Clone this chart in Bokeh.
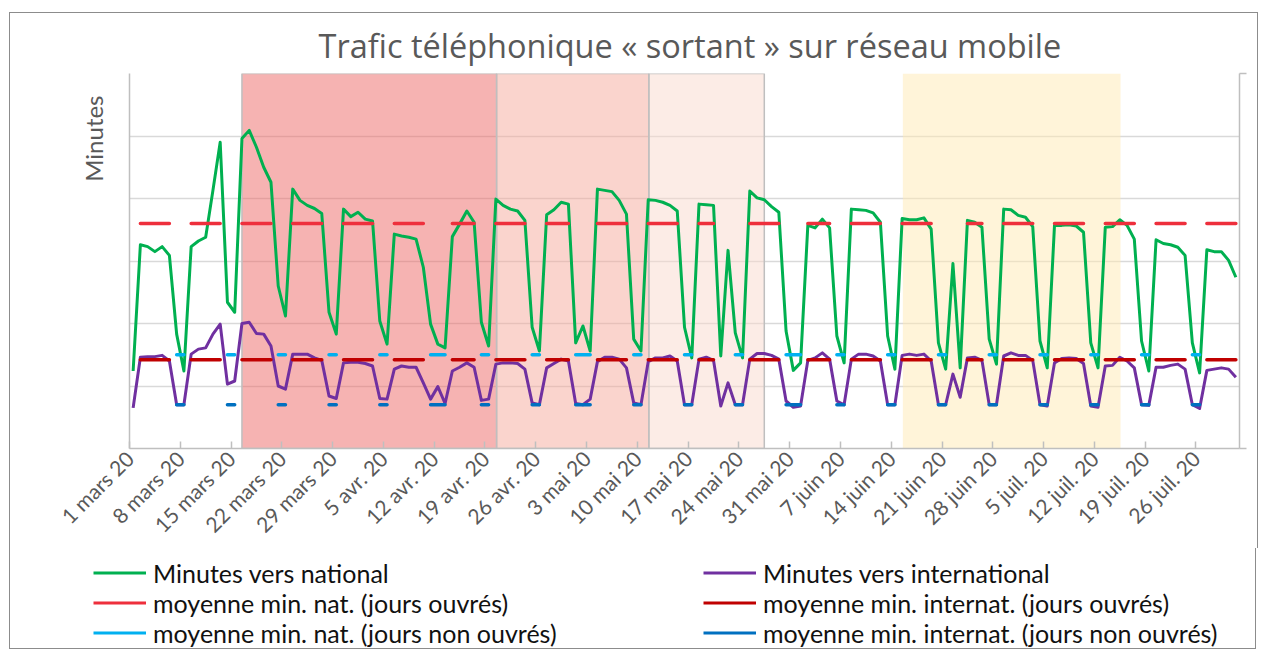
import math
import pandas as pd
from bokeh.plotting import figure
from bokeh.models import (FixedTicker, Range1d, LinearAxis, Legend, LegendItem,
                          Title, ColumnDataSource)
from bokeh.embed import file_html
from bokeh.resources import INLINE

# ---------------- data ----------------
start_date = "2020-03-01"
n_days = 153

tick_labels = ["1 mars 20", "8 mars 20", "15 mars 20", "22 mars 20", "29 mars 20",
               "5 avr. 20", "12 avr. 20", "19 avr. 20", "26 avr. 20", "3 mai 20",
               "10 mai 20", "17 mai 20", "24 mai 20", "31 mai 20", "7 juin 20",
               "14 juin 20", "21 juin 20", "28 juin 20", "5 juil. 20", "12 juil. 20",
               "19 juil. 20", "26 juil. 20"]

national = [12.4, 32.6, 32.3, 31.5, 32.3, 30.9, 18.3, 12.4, 32.3, 33.2,
            33.8, 41.3, 49.0, 23.4, 21.8, 49.6, 50.9, 48.2, 45.0, 42.6,
            26.0, 21.2, 41.5, 39.7, 38.9, 38.4, 37.6, 21.8, 18.3, 38.3,
            37.1, 37.8, 36.7, 36.4, 20.4, 16.7, 34.3, 34.0, 33.8, 33.5,
            29.0, 19.9, 16.7, 16.1, 33.9, 35.9, 38.0, 36.2, 20.2, 16.4,
            39.9, 38.9, 38.3, 38.0, 36.5, 19.4, 15.6, 37.4, 38.2, 39.4,
            39.1, 16.9, 19.6, 15.6, 41.5, 41.3, 41.1, 39.7, 37.5, 17.5,
            15.6, 39.8, 39.7, 39.4, 38.9, 38.0, 19.4, 14.5, 39.1, 39.0,
            38.9, 14.8, 31.7, 18.5, 14.5, 41.2, 40.1, 39.8, 38.7, 37.8,
            18.8, 12.5, 13.7, 35.7, 35.3, 36.7, 35.3, 18.0, 13.7, 38.3,
            38.2, 38.1, 37.7, 36.2, 18.0, 12.7, 36.8, 36.6, 36.6, 36.9,
            35.1, 16.9, 12.7, 29.6, 12.9, 36.5, 36.2, 35.4, 17.5, 13.5,
            38.3, 38.2, 37.3, 37.0, 35.5, 17.2, 12.9, 35.7, 35.7, 35.8,
            35.6, 34.6, 16.9, 12.9, 35.4, 35.5, 36.6, 35.7, 33.5, 17.2,
            12.4, 33.4, 32.8, 32.6, 32.2, 30.9, 16.9, 12.1, 31.8, 31.5,
            31.5, 30.1, 27.4]

international = [6.5, 14.6, 14.7, 14.7, 14.9, 14.0, 7.0, 7.0, 15.1, 15.9,
                 16.1, 18.3, 19.9, 10.3, 10.8, 20.0, 20.2, 18.4, 18.3, 16.4,
                 10.0, 9.5, 15.1, 15.1, 15.1, 14.5, 14.1, 8.4, 8.0, 13.7,
                 13.8, 13.8, 13.6, 13.2, 8.0, 7.9, 12.7, 13.2, 13.0, 13.0,
                 10.5, 7.9, 9.9, 7.2, 12.4, 13.0, 13.7, 13.0, 7.7, 7.9,
                 13.5, 13.7, 13.7, 13.6, 12.7, 7.3, 7.0, 12.9, 13.6, 14.3,
                 14.0, 7.2, 7.0, 7.9, 13.9, 14.6, 14.6, 14.3, 12.9, 7.3,
                 7.0, 13.9, 14.5, 14.5, 14.8, 14.0, 7.0, 7.0, 14.3, 14.6,
                 14.1, 6.8, 10.5, 7.0, 7.0, 14.3, 15.2, 15.2, 14.9, 14.3,
                 7.6, 6.6, 6.8, 14.1, 14.5, 15.3, 14.3, 7.6, 7.0, 14.3,
                 15.1, 15.1, 14.8, 14.0, 7.0, 7.0, 14.9, 15.1, 14.9, 15.1,
                 14.0, 7.0, 7.0, 11.9, 8.2, 14.5, 14.6, 14.1, 7.0, 7.0,
                 14.8, 15.3, 14.9, 14.9, 14.1, 7.0, 6.8, 13.7, 14.4, 14.5,
                 14.4, 13.6, 6.8, 6.6, 13.2, 13.3, 14.6, 14.0, 12.9, 7.0,
                 6.9, 13.0, 13.0, 13.3, 13.5, 12.7, 7.0, 6.4, 12.5, 12.7,
                 12.9, 12.7, 11.4]

mean_nat_ouvres = 36.0
mean_int_ouvres = 14.2
mean_nat_non_ouvres = 15.0
mean_int_non_ouvres = 7.0

holidays = ["2020-04-13", "2020-05-01", "2020-06-01"]
excluded_days = ["2020-05-21", "2020-05-22", "2020-06-22", "2020-06-23"]

# shaded periods (in days from 1 March)
period_start = [15.5, 50.6, 71.6, 106.6]
period_end = [50.6, 71.6, 87.5, 136.6]
period_colors = ["#ED6765", "#F5A99B", "#F9D9CD", "#FFE9B3"]
period_border_alpha = [1, 1, 1, 0]

series_names = ["Minutes vers national", "Minutes vers international",
                "moyenne min. nat. (jours ouvrés)", "moyenne min. internat. (jours ouvrés)",
                "moyenne min. nat. (jours non ouvrés)", "moyenne min. internat. (jours non ouvrés)"]
series_colors = ["#00B050", "#7030A0", "#EE2F3C", "#C00000", "#00B0F0", "#0070C0"]

# ---------------- derived ----------------
dates = pd.date_range(start_date, periods=n_days, freq="D")
x = [i + 0.5 for i in range(n_days)]
nan = float("nan")
day_type = []
for d in dates:
    ds = d.strftime("%Y-%m-%d")
    if ds in excluded_days:
        day_type.append("x")
    elif d.weekday() >= 5 or ds in holidays:
        day_type.append("n")
    else:
        day_type.append("o")

nat_o = [mean_nat_ouvres if t == "o" else nan for t in day_type]
int_o = [mean_int_ouvres if t == "o" else nan for t in day_type]
nat_n = [mean_nat_non_ouvres if t == "n" else nan for t in day_type]
int_n = [mean_int_non_ouvres if t == "n" else nan for t in day_type]
series_values = [national, international, nat_o, int_o, nat_n, int_n]

FONT = "Lato"
GRAY_TXT = "#595959"
AXIS_GRAY = "#BFBFBF"
BORDER = "1px solid #8C8C8C"
W = 1247

# ---------------- main chart ----------------
p = figure(frame_width=1110, frame_height=375,
           x_range=Range1d(0, n_days), y_range=Range1d(0, 60),
           output_backend="svg", toolbar_location=None,
           min_border_left=119, min_border_right=18,
           min_border_top=60, min_border_bottom=100,
           background_fill_color="white", border_fill_color="white",
           outline_line_color=None)
p.styles = {"border-top": BORDER, "border-left": BORDER, "border-right": BORDER,
            "margin-top": "12px", "margin-left": "9px"}

p.title.text = "Trafic téléphonique « sortant » sur réseau mobile"
p.title.align = "left"
p.title.offset = 189
p.title.standoff = 11
p.title.text_font = "Open Sans"
p.title.text_font_size = "32.5px"
p.title.text_font_style = "normal"
p.title.text_color = GRAY_TXT

ylab = Title(text="Minutes", align="right", offset=22, standoff=43,
             text_font=FONT, text_font_size="24px", text_font_style="normal",
             text_color=GRAY_TXT)
p.add_layout(ylab, "left")

# grid
p.xgrid.visible = False
p.ygrid.ticker = FixedTicker(ticks=[10, 20, 30, 40, 50, 60])
p.ygrid.grid_line_color = "#D9D9D9"
p.ygrid.grid_line_width = 1.5

# x axis
xt = list(range(0, 148, 7))
p.xaxis.ticker = FixedTicker(ticks=xt)
p.xaxis.major_label_overrides = {t: lab for t, lab in zip(xt, tick_labels)}
p.xaxis.major_label_orientation = math.pi / 4
p.xaxis.major_tick_in = 7
p.xaxis.major_tick_out = 0
p.xaxis.minor_tick_line_color = None
p.xaxis.major_tick_line_color = AXIS_GRAY
p.xaxis.major_tick_line_width = 1.5
p.xaxis.axis_line_color = AXIS_GRAY
p.xaxis.axis_line_width = 1.5
p.xaxis.major_label_text_font = FONT
p.xaxis.major_label_text_font_size = "21px"
p.xaxis.major_label_text_color = GRAY_TXT
p.xaxis.major_label_standoff = 6

# y axis (no labels)
yt = [0, 10, 20, 30, 40, 50, 60]
p.yaxis.ticker = FixedTicker(ticks=yt)
p.yaxis.major_label_overrides = {t: "" for t in yt}
p.yaxis.major_tick_in = 0
p.yaxis.major_tick_out = 0
p.yaxis.minor_tick_line_color = None
p.yaxis.axis_line_color = AXIS_GRAY
p.yaxis.axis_line_width = 1.5
p.yaxis.major_label_standoff = 0

ra = LinearAxis(ticker=FixedTicker(ticks=[0, 60]))
ra.major_label_overrides = {0: "", 60: ""}
ra.major_tick_in = 0
ra.major_tick_out = 7
ra.major_tick_line_color = AXIS_GRAY
ra.major_tick_line_width = 1.5
ra.minor_tick_line_color = None
ra.axis_line_color = AXIS_GRAY
ra.axis_line_width = 1.5
ra.major_label_standoff = 0
p.add_layout(ra, "right")

# shaded periods
shade = ColumnDataSource(dict(left=period_start, right=period_end,
                              color=period_colors, la=period_border_alpha))
p.quad(left="left", right="right", bottom=0, top=60, source=shade,
       fill_color="color", fill_alpha=0.5, line_color=AXIS_GRAY,
       line_alpha="la", line_width=1.5)

# series
for i, (vals, col) in enumerate(zip(series_values, series_colors)):
    if i < 2:
        p.line(x, vals, line_color=col, line_width=3, line_join="round")
    else:
        p.line(x, vals, line_color=col, line_width=3.5, line_cap="round")

# ---------------- legend strip (separate root below) ----------------
LEG_H = 101
pl = figure(width=W, height=LEG_H, x_range=Range1d(0, 1), y_range=Range1d(0, 1),
            output_backend="svg", toolbar_location=None, min_border=0,
            outline_line_color=None, background_fill_color="white",
            border_fill_color="white")
pl.styles = {"border-bottom": BORDER, "border-left": BORDER, "border-right": BORDER,
             "margin-left": "9px"}
pl.xaxis.visible = False
pl.yaxis.visible = False
pl.grid.visible = False
# legend proxies (kept outside the visible range of this strip)
leg_renderers = [pl.line([-2, -1], [-2, -2], line_color=c, line_width=3) for c in series_colors]

def make_legend(idx, loc):
    items = [LegendItem(label=series_names[k], renderers=[leg_renderers[k]]) for k in idx]
    return Legend(items=items, location=loc, orientation="vertical",
                  glyph_width=53, glyph_height=29, label_height=29,
                  label_standoff=7, spacing=0, padding=0, margin=0,
                  border_line_alpha=0, background_fill_alpha=0,
                  label_text_font=FONT, label_text_font_size="25px",
                  label_text_color="#111111")

pl.add_layout(make_legend([0, 2, 4], (83, 1.5)), "center")
pl.add_layout(make_legend([1, 3, 5], (693, 1.5)), "center")

open("out.html", "w").write(file_html([p, pl], INLINE))
